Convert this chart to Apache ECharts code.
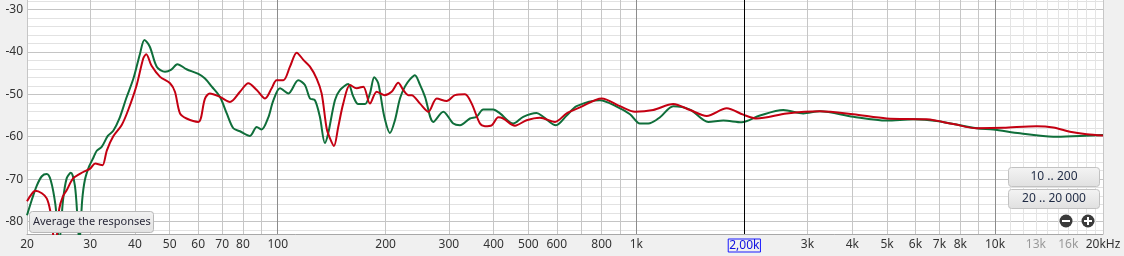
<!DOCTYPE html>
<html><head><meta charset="utf-8">
<script src="https://cdn.jsdelivr.net/npm/echarts@6/dist/echarts.min.js"></script>
<style>html,body{margin:0;padding:0;background:#f0f0f0}#c{width:1124px;height:256px}</style>
</head><body><div id="c"></div>
<script>
const greenFreq=[20.0,20.6,21.3,22.0,22.7,23.3,24.0,24.6,25.2,25.8,26.5,27.2,27.7,28.0,28.5,29.0,29.8,30.6,31.3,32.3,33.6,34.8,36.2,37.8,39.6,41.3,42.5,44.0,46.0,48.5,50.5,52.5,55.7,60.1,62.7,65.5,69.0,72.1,75.2,78.5,83.7,87.4,90.2,94.1,97.2,101.5,107.1,114.1,119.1,123.0,127.0,131.1,135.4,138.3,144.4,149.1,157.3,162.4,167.7,175.1,180.8,185.9,190.7,198.3,205.6,212.3,219.2,226.3,233.7,241.3,249.4,257.5,271.6,289.6,308.7,322.3,343.6,358.7,374.2,399.0,416.6,453.7,483.7,527.1,549.9,596.8,639.3,681.6,791.6,881,960,1023,1091,1164,1267,1411,1587,1748,1966,2211,2568,2920,3249,4026,4985,5916,6876,8887,9886,11735,14531,17250,20000];
const greenDb=[-78.5,-75,-71.5,-69.3,-68.8,-70.3,-76,-85,-75,-69.8,-68.5,-71.5,-80,-85,-75,-70.2,-67,-65,-63.3,-62.4,-59.8,-58.6,-55.7,-51,-46.3,-40.5,-37.2,-38.8,-43.5,-44.7,-44.2,-42.9,-44.1,-45.2,-46.3,-48.2,-50.6,-54.5,-58.0,-58.7,-59.8,-57.7,-58.3,-55.5,-51.5,-48.6,-49.8,-46.7,-47.8,-51.0,-51.4,-55.3,-61.5,-59.2,-51.4,-49.0,-47.6,-50.5,-52.3,-52.3,-49.8,-46.0,-47.4,-55.3,-59.1,-56.1,-51.0,-48.2,-46.5,-45.5,-47.8,-50.6,-56.5,-54.1,-56.9,-57.3,-55.7,-55.3,-53.6,-53.6,-54.5,-56.9,-55.3,-54.4,-55.3,-57.3,-55.0,-52.8,-51.4,-52.9,-54.7,-56.9,-56.8,-55.4,-52.8,-53.6,-56.5,-56.2,-56.6,-55.0,-53.7,-54.5,-54.0,-55.3,-56.2,-55.9,-56.3,-58.0,-58.3,-59.2,-60.0,-59.8,-59.6];
const redFreq=[20.0,20.6,21.1,22.0,22.7,23.2,23.6,23.9,24.2,24.6,25.2,25.8,26.9,28.7,30.0,31.0,32.0,32.5,33.4,34.8,36.7,38.3,40.45,42.2,43.0,44.5,47.0,50.1,51.7,53.4,55.7,60.1,62.7,64.7,69.0,73.6,78.5,82.8,87.4,92.2,96.2,99.3,103.7,108.2,113.0,117.9,123.0,128.4,132.6,136.9,139.9,143.5,147.5,152.3,159.0,166.0,173.2,180.8,188.8,198.3,207.8,216.8,223.9,231.2,236.3,249.4,263.1,277.6,295.9,312.1,332.8,347.4,366.4,378.3,395.0,412.1,425.5,458.7,494.4,538.4,593,639.3,696.2,800.4,900,991,1114,1267,1411,1571,1786,1986,2165,2625,3249,4026,4985,6449,7645,8887,10544,13058,14531,16174,18010,20000];
const redDb=[-75.2,-73.5,-72.7,-73.3,-74.5,-77.3,-82,-88,-84,-77,-74,-72.6,-69.8,-68.3,-67.5,-66.3,-66.6,-66.7,-63.2,-59.9,-57.3,-53.7,-47.8,-41.5,-40.6,-43.3,-45.9,-47.4,-49.4,-54.5,-55.7,-56.5,-51.0,-49.8,-50.6,-51.8,-49.4,-47.4,-49.0,-51.0,-48.6,-46.7,-46.7,-43.5,-40.2,-41.9,-43.5,-46.3,-49.8,-58,-60.4,-62.2,-57.7,-52.2,-47.8,-48.6,-48.2,-52.2,-49.4,-50.2,-49.4,-47.3,-49.0,-50.2,-50.2,-52.2,-54.1,-51.0,-51.6,-50.2,-50.0,-52.2,-56.9,-57.5,-57.3,-55.4,-55.7,-57.4,-56.1,-55.5,-56.5,-54.5,-53.1,-51.0,-52.8,-54.1,-53.7,-52.3,-53.7,-55.1,-53.3,-54.8,-55.7,-54.5,-54.0,-54.7,-55.7,-55.9,-57.0,-58.0,-57.9,-57.5,-57.8,-58.8,-59.4,-59.7];

const xGridNormal=[20,30,40,50,60,70,80,90,200,300,400,500,600,700,800,900,2000,3000,4000,5000,6000,7000,8000,9000,20000];
const xGridDark=[100,1000,10000];
const xGridLight=[11000,12000,13000,14000,15000,16000,17000,18000,19000];
const xLabelValues=[20,30,40,50,60,70,80,100,200,300,400,500,600,800,1000,2000,3000,4000,5000,6000,7000,8000,10000,13000,16000,20000];
const xLabelTexts=['20','30','40','50','60','70','80','100','200','300','400','500','600','800','1k','2,00k','3k','4k','5k','6k','7k','8k','10k','13k','16k','20kHz'];
const yMajor=[-80,-70,-60,-50,-40,-30];
const yMinor=[-82,-78,-76,-74,-72,-68,-66,-64,-62,-58,-56,-54,-52,-48,-46,-44,-42,-38,-36,-34,-32,-28];
const cursorFreq=2000;

const FONT='Noto Sans';
const labelMap={};
xLabelValues.forEach((v,i)=>{labelMap[v]=xLabelTexts[i];});
function fmtX(v){
  const key=xLabelValues.find(t=>Math.abs(t-v)/t<1e-6);
  const t=labelMap[key]; if(t===undefined) return '';
  if(key===13000||key===16000) return '{g|'+t+'}';
  if(key===cursorFreq) return '{cur|'+t+'}';
  return '{n|'+t+'}';
}
const chart=echarts.init(document.getElementById('c'));
const hiddenX=(vals,color)=>({type:'log',logBase:10,min:20,max:20000,position:'bottom',
  axisLine:{show:false},axisLabel:{show:false},axisTick:{show:false,customValues:vals},
  splitLine:{show:true,lineStyle:{color:color,width:1}}});
const opt={
  animation:false,
  backgroundColor:'#f0f0f0',
  grid:{left:27,right:21,top:0,bottom:22,show:true,backgroundColor:'#ffffff',borderWidth:0},
  xAxis:[
    {type:'log',logBase:10,min:20,max:20000,position:'bottom',
     axisLine:{show:true,onZero:false,lineStyle:{color:'#a8a8a8'}},
     axisTick:{show:false,customValues:xGridNormal},
     axisLabel:{customValues:xLabelValues,formatter:fmtX,margin:5,
       rich:{n:{color:'#333',fontSize:12,fontFamily:FONT},
             g:{color:'#999',fontSize:12,fontFamily:FONT},
             cur:{color:'#1010e0',fontSize:12,fontFamily:FONT,borderColor:'#1a1aff',borderWidth:1,padding:[1,1,0,1]}}},
     splitLine:{show:true,lineStyle:{color:'#c6c6c6',width:1}}},
    hiddenX(xGridLight,'#e4e4e4'),
    hiddenX(xGridDark,'#8c8c8c')
  ],
  yAxis:[
    {type:'value',min:-82.9,max:-27.8,axisLine:{show:false},
     axisTick:{show:false,customValues:yMajor},
     axisLabel:{customValues:yMajor,margin:4,color:'#333',fontSize:12,fontFamily:FONT},
     splitLine:{show:true,lineStyle:{color:'#c4c4c4',width:1}}},
    {type:'value',min:-82.9,max:-27.8,axisLine:{show:false},position:'left',
     axisTick:{show:false,customValues:yMinor},axisLabel:{show:false},
     splitLine:{show:true,lineStyle:{color:'#e2e2e2',width:1}}}
  ],
  series:[
    {type:'line',name:'green',xAxisIndex:0,yAxisIndex:0,data:greenFreq.map((f,i)=>[f,greenDb[i]]),
     showSymbol:false,symbol:'none',smooth:0.3,clip:true,lineStyle:{color:'#0f6e3a',width:2},
     markLine:{silent:true,symbol:['none','none'],label:{show:false},
       lineStyle:{color:'#000',type:'solid',width:1},data:[{xAxis:cursorFreq}]}},
    {type:'line',name:'red',xAxisIndex:0,yAxisIndex:0,data:redFreq.map((f,i)=>[f,redDb[i]]),
     showSymbol:false,symbol:'none',smooth:0.3,clip:true,lineStyle:{color:'#c40012',width:2}}
  ],
  graphic:[
    {type:'rect',z:100,shape:{x:29.5,y:211.5,width:124,height:21,r:3},
     style:{fill:new echarts.graphic.LinearGradient(0,0,0,1,[{offset:0,color:'#f2f2f2'},{offset:1,color:'#e2e2e2'}]),stroke:'#b8b8b8',lineWidth:1}},
    {type:'text',z:101,x:33,y:222,style:{text:'Average the responses',fontSize:11,fontFamily:FONT,fill:'#2a2a3a',verticalAlign:'middle'}},
    {type:'rect',z:100,shape:{x:1008.5,y:167.5,width:91,height:19,r:3},
     style:{fill:new echarts.graphic.LinearGradient(0,0,0,1,[{offset:0,color:'#f4f4f4'},{offset:1,color:'#e0e0e0'}]),stroke:'#c2c2c2',lineWidth:1}},
    {type:'text',z:101,x:1054,y:177,style:{text:'10 .. 200',fontSize:12,fontFamily:FONT,fill:'#1e2a44',align:'center',verticalAlign:'middle'}},
    {type:'rect',z:100,shape:{x:1008.5,y:189.5,width:91,height:19,r:3},
     style:{fill:new echarts.graphic.LinearGradient(0,0,0,1,[{offset:0,color:'#f4f4f4'},{offset:1,color:'#e0e0e0'}]),stroke:'#c2c2c2',lineWidth:1}},
    {type:'text',z:101,x:1054,y:199,style:{text:'20 .. 20 000',fontSize:12,fontFamily:FONT,fill:'#1e2a44',align:'center',verticalAlign:'middle'}},
    {type:'circle',z:100,shape:{cx:1066,cy:221,r:6.5},style:{fill:'#3a3a3a'}},
    {type:'rect',z:101,shape:{x:1062,y:220,width:8,height:2},style:{fill:'#fff'}},
    {type:'circle',z:100,shape:{cx:1088,cy:221,r:6.5},style:{fill:'#3a3a3a'}},
    {type:'rect',z:101,shape:{x:1084,y:220,width:8,height:2},style:{fill:'#fff'}},
    {type:'rect',z:101,shape:{x:1087,y:217,width:2,height:8},style:{fill:'#fff'}}
  ]
};
chart.setOption(opt);
</script></body></html>
